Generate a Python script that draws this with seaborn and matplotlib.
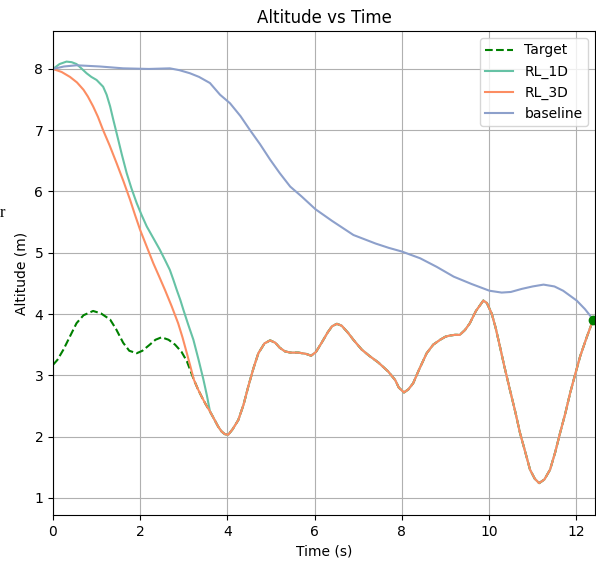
import matplotlib
matplotlib.use("Agg")
import matplotlib.pyplot as plt
import seaborn as sns

# target trajectory (time s, altitude m)
target_t = [0.0, 0.1, 0.24, 0.4, 0.54, 0.7, 0.92, 1.1, 1.31, 1.45, 1.61, 1.75,
            1.92, 2.05, 2.22, 2.35, 2.49, 2.65, 2.8, 2.95, 3.07, 3.23, 3.32, 3.41,
            3.5, 3.6, 3.7, 3.79, 3.87, 3.94, 4.02, 4.12, 4.25, 4.37, 4.48, 4.6,
            4.71, 4.85, 4.98, 5.1, 5.2, 5.32, 5.45, 5.63, 5.8, 5.92, 6.03, 6.16,
            6.3, 6.4, 6.51, 6.62, 6.77, 6.9, 7.08, 7.25, 7.46, 7.69, 7.85, 7.93,
            8.05, 8.15, 8.26, 8.4, 8.57, 8.72, 8.88, 9.0, 9.11, 9.22, 9.33, 9.45,
            9.56, 9.7, 9.87, 9.95, 10.06, 10.15, 10.25, 10.35, 10.48, 10.6, 10.71,
            10.83, 10.94, 11.05, 11.15, 11.27, 11.4, 11.52, 11.63, 11.75, 11.86,
            11.97, 12.09, 12.24, 12.39]
target_z = [3.17, 3.25, 3.42, 3.65, 3.85, 3.98, 4.05, 4.01, 3.91, 3.75, 3.53, 3.40,
            3.36, 3.40, 3.50, 3.58, 3.62, 3.58, 3.50, 3.38, 3.23, 2.93, 2.78, 2.65,
            2.53, 2.41, 2.28, 2.16, 2.08, 2.04, 2.03, 2.12, 2.27, 2.52, 2.82, 3.12,
            3.36, 3.52, 3.57, 3.53, 3.45, 3.39, 3.37, 3.37, 3.35, 3.32, 3.38, 3.53,
            3.70, 3.80, 3.84, 3.81, 3.69, 3.57, 3.42, 3.32, 3.21, 3.06, 2.92, 2.80,
            2.72, 2.77, 2.87, 3.10, 3.36, 3.50, 3.58, 3.63, 3.65, 3.66, 3.66, 3.74,
            3.85, 4.05, 4.22, 4.18, 4.01, 3.78, 3.47, 3.15, 2.76, 2.41, 2.06,
            1.75, 1.46, 1.31, 1.24, 1.30, 1.46, 1.75, 2.06, 2.38, 2.71,
            3.00, 3.31, 3.62, 3.91]

# RL_1D before it locks onto the target
rl1d_t = [0.0, 0.15, 0.31, 0.43, 0.54, 0.65, 0.77, 0.88, 1.0, 1.15, 1.23, 1.31,
          1.38, 1.46, 1.58, 1.69, 1.8, 1.92, 2.03, 2.15, 2.3, 2.45, 2.57, 2.68,
          2.76, 2.84, 2.92, 2.99, 3.1, 3.22, 3.34, 3.45, 3.53]
rl1d_z = [8.0, 8.08, 8.12, 8.11, 8.08, 8.01, 7.93, 7.87, 7.82, 7.71, 7.58, 7.39,
          7.18, 6.95, 6.60, 6.30, 6.05, 5.81, 5.62, 5.43, 5.24, 5.05, 4.88, 4.72,
          4.56, 4.39, 4.23, 4.07, 3.83, 3.58, 3.25, 2.93, 2.67]

# RL_3D before it locks onto the target
rl3d_t = [0.0, 0.2, 0.39, 0.55, 0.7, 0.8, 0.92, 1.03, 1.15, 1.3, 1.46, 1.62,
          1.77, 1.88, 2.0, 2.15, 2.3, 2.43, 2.57, 2.72, 2.87, 2.97, 3.07, 3.15]
rl3d_z = [8.0, 7.95, 7.87, 7.78, 7.66, 7.55, 7.39, 7.22, 7.0, 6.75, 6.46, 6.16,
          5.86, 5.62, 5.37, 5.10, 4.83, 4.62, 4.39, 4.13, 3.85, 3.62, 3.36, 3.15]

base_t = [0.0, 0.25, 0.54, 1.08, 1.61, 2.2, 2.68, 2.9, 3.14, 3.35, 3.6, 3.83,
          4.06, 4.3, 4.52, 4.75, 4.98, 5.2, 5.44, 5.7, 6.02, 6.4, 6.89, 7.4,
          7.7, 8.0, 8.42, 8.8, 9.19, 9.6, 10.01, 10.29, 10.5, 10.75, 11.0, 11.25,
          11.5, 11.7, 12.01, 12.2, 12.4]
base_z = [8.0, 8.04, 8.06, 8.04, 8.01, 8.0, 8.01, 7.98, 7.93, 7.87, 7.77, 7.58,
          7.44, 7.23, 7.0, 6.77, 6.52, 6.30, 6.08, 5.92, 5.71, 5.52, 5.29, 5.15,
          5.08, 5.02, 4.91, 4.77, 4.61, 4.49, 4.38, 4.35, 4.36, 4.41, 4.45, 4.48,
          4.45, 4.38, 4.22, 4.08, 3.90]

# after catching the target both RL curves follow it
lock_1d = target_t.index(3.6)
lock_3d = target_t.index(3.23)
rl1d_t = rl1d_t + target_t[lock_1d:]
rl1d_z = rl1d_z + target_z[lock_1d:]
rl3d_t = rl3d_t + target_t[lock_3d:]
rl3d_z = rl3d_z + target_z[lock_3d:]

colors = sns.color_palette("Set2")

fig = plt.figure(figsize=(5.96, 5.63), dpi=100)
ax = fig.add_axes([0.0889, 0.0853, 0.9094, 0.8597])

sns.lineplot(x=target_t, y=target_z, ax=ax, color="g", linestyle="--",
             label="Target", sort=False)
sns.lineplot(x=rl1d_t, y=rl1d_z, ax=ax, color=colors[0], label="RL_1D", sort=False)
sns.lineplot(x=rl3d_t, y=rl3d_z, ax=ax, color=colors[1], label="RL_3D", sort=False)
sns.lineplot(x=base_t, y=base_z, ax=ax, color=colors[2], label="baseline", sort=False)

# current target position
ax.plot(target_t[-1], target_z[-1], "o", color="g", markersize=6, clip_on=False)

ax.set_xlim(0, 12.43)
ax.set_ylim(0.72, 8.62)
ax.set_xticks([0, 2, 4, 6, 8, 10, 12])
ax.set_yticks([1, 2, 3, 4, 5, 6, 7, 8])
ax.grid(True)
ax.set_title("Altitude vs Time")
ax.set_xlabel("Time (s)")
ax.set_ylabel("Altitude (m)")
ax.legend(loc="upper right")

# stray character from the surrounding page
fig.text(0.0, 1 - 213 / 563, "r", family="Liberation Serif", fontsize=12, va="center")

fig.savefig("out.png", dpi=100)
